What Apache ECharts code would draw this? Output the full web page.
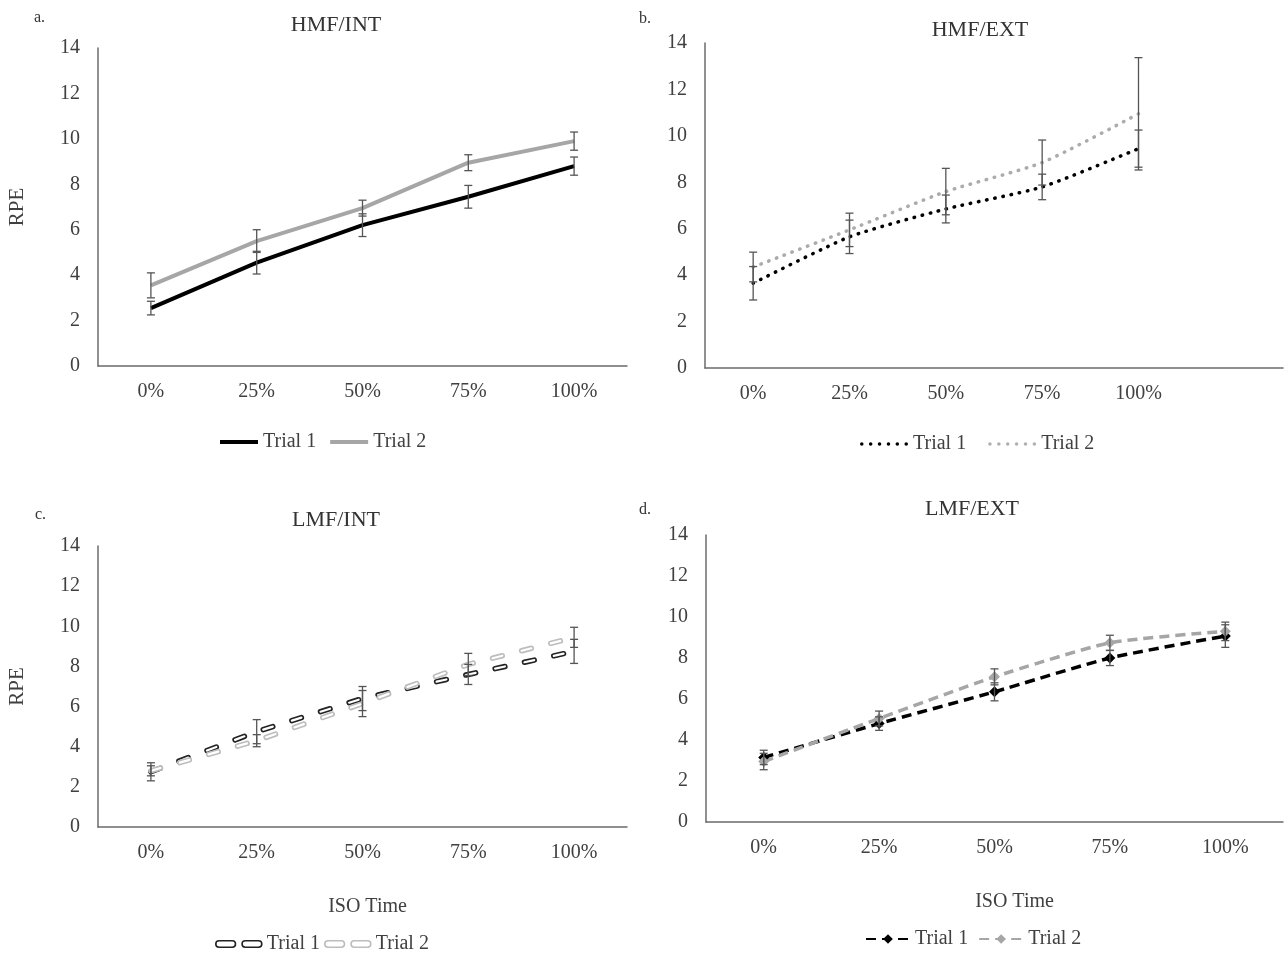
<!DOCTYPE html>
<html>
<head>
<meta charset="utf-8">
<script src="https://cdn.jsdelivr.net/npm/echarts@6/dist/echarts.min.js"></script>
<style>
  html, body { margin: 0; padding: 0; background: #fff; }
  #chart { width: 1285px; height: 953px; }
</style>
</head>
<body>
<div id="chart"></div>
<script>
// Data (RPE by ISO time)
var categories = ['0%', '25%', '50%', '75%', '100%'];
var categoriesWide = ['0%', '25%', '50%', '75%', '100%', ''];

var hmfIntTrial1 = [2.55, 4.55, 6.2, 7.45, 8.8];
var hmfIntTrial1Err = [0.3, 0.5, 0.5, 0.5, 0.4];
var hmfIntTrial2 = [3.55, 5.5, 6.95, 8.95, 9.9];
var hmfIntTrial2Err = [0.55, 0.5, 0.35, 0.35, 0.4];

var hmfExtTrial1 = [3.65, 5.65, 6.85, 7.8, 9.45];
var hmfExtTrial1Err = [0.72, 0.72, 0.6, 0.55, 0.8];
var hmfExtTrial2 = [4.35, 5.95, 7.6, 8.85, 10.95];
var hmfExtTrial2Err = [0.64, 0.72, 1.0, 0.97, 2.42];

var lmfIntTrial1 = [2.75, 4.75, 6.4, 7.6, 8.75];
var lmfIntTrial1Err = [0.45, 0.6, 0.6, 0.5, 0.6];
var lmfIntTrial2 = [2.8, 4.3, 6.15, 8.1, 9.45];
var lmfIntTrial2Err = [0.25, 0.3, 0.65, 0.55, 0.5];

var lmfExtTrial1 = [3.15, 4.8, 6.35, 8.0, 9.07];
var lmfExtTrial1Err = [0.35, 0.33, 0.44, 0.37, 0.55];
var lmfExtTrial2 = [2.95, 5.05, 7.08, 8.74, 9.3];
var lmfExtTrial2Err = [0.4, 0.36, 0.39, 0.37, 0.45];

var panelTitles = ['HMF/INT', 'HMF/EXT', 'LMF/INT', 'LMF/EXT'];
var panelLetters = ['a.', 'b.', 'c.', 'd.'];
var yAxisName = 'RPE';
var xAxisName = 'ISO Time';

var FONT = 'Liberation Serif';
var TEXT = '#404040';
var AXIS = '#6b6b6b';

function errData(means, errs) {
  return means.map(function (m, i) { return [i, m - errs[i], m + errs[i]]; });
}

function renderErrorBar(params, api) {
  var x = api.value(0);
  var lo = api.coord([x, api.value(1)]);
  var hi = api.coord([x, api.value(2)]);
  var w = 4;
  var style = { stroke: '#555', lineWidth: 1.3 };
  return {
    type: 'group',
    children: [
      { type: 'line', shape: { x1: lo[0], y1: lo[1], x2: hi[0], y2: hi[1] }, style: style },
      { type: 'line', shape: { x1: lo[0] - w, y1: lo[1], x2: lo[0] + w, y2: lo[1] }, style: style },
      { type: 'line', shape: { x1: hi[0] - w, y1: hi[1], x2: hi[0] + w, y2: hi[1] }, style: style }
    ]
  };
}

function errSeries(idx, means, errs) {
  return {
    type: 'custom',
    xAxisIndex: idx,
    yAxisIndex: idx,
    renderItem: renderErrorBar,
    data: errData(means, errs),
    z: 5,
    silent: true
  };
}

function xAxis(idx, cats, withName, namePad) {
  return {
    type: 'category',
    gridIndex: idx,
    data: cats,
    boundaryGap: true,
    axisLine: { lineStyle: { color: AXIS, width: 1.5 } },
    axisTick: { show: false },
    axisLabel: { color: TEXT, fontFamily: FONT, fontSize: 20, margin: 16 },
    name: withName ? xAxisName : '',
    nameLocation: 'middle',
    nameGap: 70,
    nameTextStyle: { color: TEXT, fontFamily: FONT, fontSize: 20, padding: [0, 0, 0, namePad || 0] }
  };
}

function yAxis(idx, withName) {
  return {
    type: 'value',
    gridIndex: idx,
    min: 0,
    max: 14,
    interval: 2,
    axisLine: { show: true, lineStyle: { color: AXIS, width: 1.5 } },
    axisTick: { show: false },
    splitLine: { show: false },
    axisLabel: { color: TEXT, fontFamily: FONT, fontSize: 20, margin: 18 },
    name: withName ? yAxisName : '',
    nameLocation: 'middle',
    nameRotate: 90,
    nameGap: 70,
    nameTextStyle: { color: TEXT, fontFamily: FONT, fontSize: 21 }
  };
}

function legendText() {
  return { color: TEXT, fontFamily: FONT, fontSize: 20 };
}
function stripName(n) { return n.split(':')[1]; }

// legend icons
var lineIcon = 'path://M0,0H38V4H0Z';
function dotsIcon(n, step, r) {
  var p = 'path://';
  for (var i = 0; i < n; i++) {
    var cx = r + i * step;
    p += 'M' + (cx - r) + ',' + r + 'A' + r + ',' + r + ',0,1,1,' + (cx + r) + ',' + r +
      'A' + r + ',' + r + ',0,1,1,' + (cx - r) + ',' + r + 'Z';
  }
  return p;
}
var dotIcon = dotsIcon(6, 9, 1.8);
var pillIcon = 'path://M3,0H15A3,3,0,0,1,15,6H3A3,3,0,0,1,3,0ZM27,0H39A3,3,0,0,1,39,6H27A3,3,0,0,1,27,0Z';

var chart = echarts.init(document.getElementById('chart'), null, { renderer: 'canvas' });

var titlePos = [[331, 9], [975, 14], [331, 504], [967, 493]];
var letterPos = [[29, 5], [634, 6], [30, 502], [634, 497]];
var titles = [];
titlePos.forEach(function (p, i) {
  titles.push({
    text: panelTitles[i], left: p[0], top: p[1], textAlign: 'center',
    textStyle: { color: '#333', fontFamily: FONT, fontSize: 22, fontWeight: 'normal' }
  });
  titles.push({
    text: panelLetters[i], left: letterPos[i][0], top: letterPos[i][1],
    textStyle: { color: '#333', fontFamily: FONT, fontSize: 16, fontWeight: 'normal' }
  });
});

chart.setOption({
  backgroundColor: '#fff',
  animation: false,
  title: titles,
  grid: [
    { left: 98, top: 48, width: 529, height: 318 },
    { left: 705, top: 43, width: 578, height: 325 },
    { left: 98, top: 546, width: 529, height: 281 },
    { left: 706, top: 535, width: 577, height: 287 }
  ],
  xAxis: [
    xAxis(0, categories, false),
    xAxis(1, categoriesWide, false),
    xAxis(2, categories, true, 10),
    xAxis(3, categories, true, 40)
  ],
  yAxis: [yAxis(0, true), yAxis(1, false), yAxis(2, true), yAxis(3, false)],
  legend: [
    {
      left: 215, top: 427, itemWidth: 38, itemHeight: 4, itemGap: 14,
      data: [
        { name: 'a:Trial 1', icon: lineIcon, itemStyle: { color: '#000' } },
        { name: 'a:Trial 2', icon: lineIcon, itemStyle: { color: '#a6a6a6' } }
      ],
      formatter: stripName, textStyle: legendText()
    },
    {
      left: 855, top: 429, itemWidth: 48, itemHeight: 4, itemGap: 22,
      data: [
        { name: 'b:Trial 1', icon: dotIcon, itemStyle: { color: '#000' } },
        { name: 'b:Trial 2', icon: dotIcon, itemStyle: { color: '#b0b0b0' } }
      ],
      formatter: stripName, textStyle: legendText()
    },
    {
      left: 210, top: 929, itemWidth: 46, itemHeight: 7, itemGap: 4,
      data: [
        { name: 'c:Trial 1', icon: pillIcon, itemStyle: { color: '#fff', borderColor: '#222', borderWidth: 1.6 } },
        { name: 'c:Trial 2', icon: pillIcon, itemStyle: { color: '#fff', borderColor: '#bdbdbd', borderWidth: 1.6 } }
      ],
      formatter: stripName, textStyle: legendText()
    },
    {
      left: 860, top: 924, itemWidth: 44, itemHeight: 12, itemGap: 10,
      data: ['d:Trial 1', 'd:Trial 2'], formatter: stripName, textStyle: legendText()
    }
  ],
  series: [
    // a. HMF/INT
    {
      name: 'a:Trial 1', type: 'line', xAxisIndex: 0, yAxisIndex: 0, data: hmfIntTrial1,
      symbol: 'none', lineStyle: { color: '#000', width: 4 }, itemStyle: { color: '#000' }, z: 3
    },
    {
      name: 'a:Trial 2', type: 'line', xAxisIndex: 0, yAxisIndex: 0, data: hmfIntTrial2,
      symbol: 'none', lineStyle: { color: '#a6a6a6', width: 4 }, itemStyle: { color: '#a6a6a6' }, z: 3
    },
    errSeries(0, hmfIntTrial1, hmfIntTrial1Err),
    errSeries(0, hmfIntTrial2, hmfIntTrial2Err),

    // b. HMF/EXT
    {
      name: 'b:Trial 1', type: 'line', xAxisIndex: 1, yAxisIndex: 1, data: hmfExtTrial1,
      symbol: 'none', smooth: 0.2,
      lineStyle: { color: '#000', width: 3.5, type: [0.5, 7.8], cap: 'round' }, itemStyle: { color: '#000' }, z: 3
    },
    {
      name: 'b:Trial 2', type: 'line', xAxisIndex: 1, yAxisIndex: 1, data: hmfExtTrial2,
      symbol: 'none', smooth: 0.2,
      lineStyle: { color: '#ababab', width: 3.5, type: [0.5, 7.8], cap: 'round' }, itemStyle: { color: '#ababab' }, z: 3
    },
    errSeries(1, hmfExtTrial1, hmfExtTrial1Err),
    errSeries(1, hmfExtTrial2, hmfExtTrial2Err),

    // c. LMF/INT (outlined long dashes: dark stroke with a white core)
    {
      name: 'c:Trial 1', type: 'line', xAxisIndex: 2, yAxisIndex: 2, data: lmfIntTrial1,
      symbol: 'none', lineStyle: { color: '#222', width: 5.5, type: [10, 20], cap: 'round' }, itemStyle: { color: '#222' }, z: 3
    },
    {
      name: 'c:Trial 1 core', type: 'line', xAxisIndex: 2, yAxisIndex: 2, data: lmfIntTrial1,
      symbol: 'none', lineStyle: { color: '#fff', width: 2.2, type: [10, 20], cap: 'round' }, z: 3
    },
    {
      name: 'c:Trial 2', type: 'line', xAxisIndex: 2, yAxisIndex: 2, data: lmfIntTrial2,
      symbol: 'none', lineStyle: { color: '#bdbdbd', width: 5.5, type: [10, 20], cap: 'round' }, itemStyle: { color: '#bdbdbd' }, z: 3
    },
    {
      name: 'c:Trial 2 core', type: 'line', xAxisIndex: 2, yAxisIndex: 2, data: lmfIntTrial2,
      symbol: 'none', lineStyle: { color: '#fff', width: 2.2, type: [10, 20], cap: 'round' }, z: 3
    },
    errSeries(2, lmfIntTrial1, lmfIntTrial1Err),
    errSeries(2, lmfIntTrial2, lmfIntTrial2Err),

    // d. LMF/EXT
    {
      name: 'd:Trial 1', type: 'line', xAxisIndex: 3, yAxisIndex: 3, data: lmfExtTrial1,
      smooth: 0.2, symbol: 'diamond', symbolSize: 11,
      lineStyle: { color: '#000', width: 3.5, type: [10, 6] }, itemStyle: { color: '#000' }, z: 3
    },
    {
      name: 'd:Trial 2', type: 'line', xAxisIndex: 3, yAxisIndex: 3, data: lmfExtTrial2,
      smooth: 0.2, symbol: 'diamond', symbolSize: 11,
      lineStyle: { color: '#a6a6a6', width: 3.5, type: [10, 6] }, itemStyle: { color: '#a6a6a6' }, z: 3
    },
    errSeries(3, lmfExtTrial1, lmfExtTrial1Err),
    errSeries(3, lmfExtTrial2, lmfExtTrial2Err)
  ]
});

window.addEventListener('resize', function () {
  chart.resize();
});
</script>
</body>
</html>
